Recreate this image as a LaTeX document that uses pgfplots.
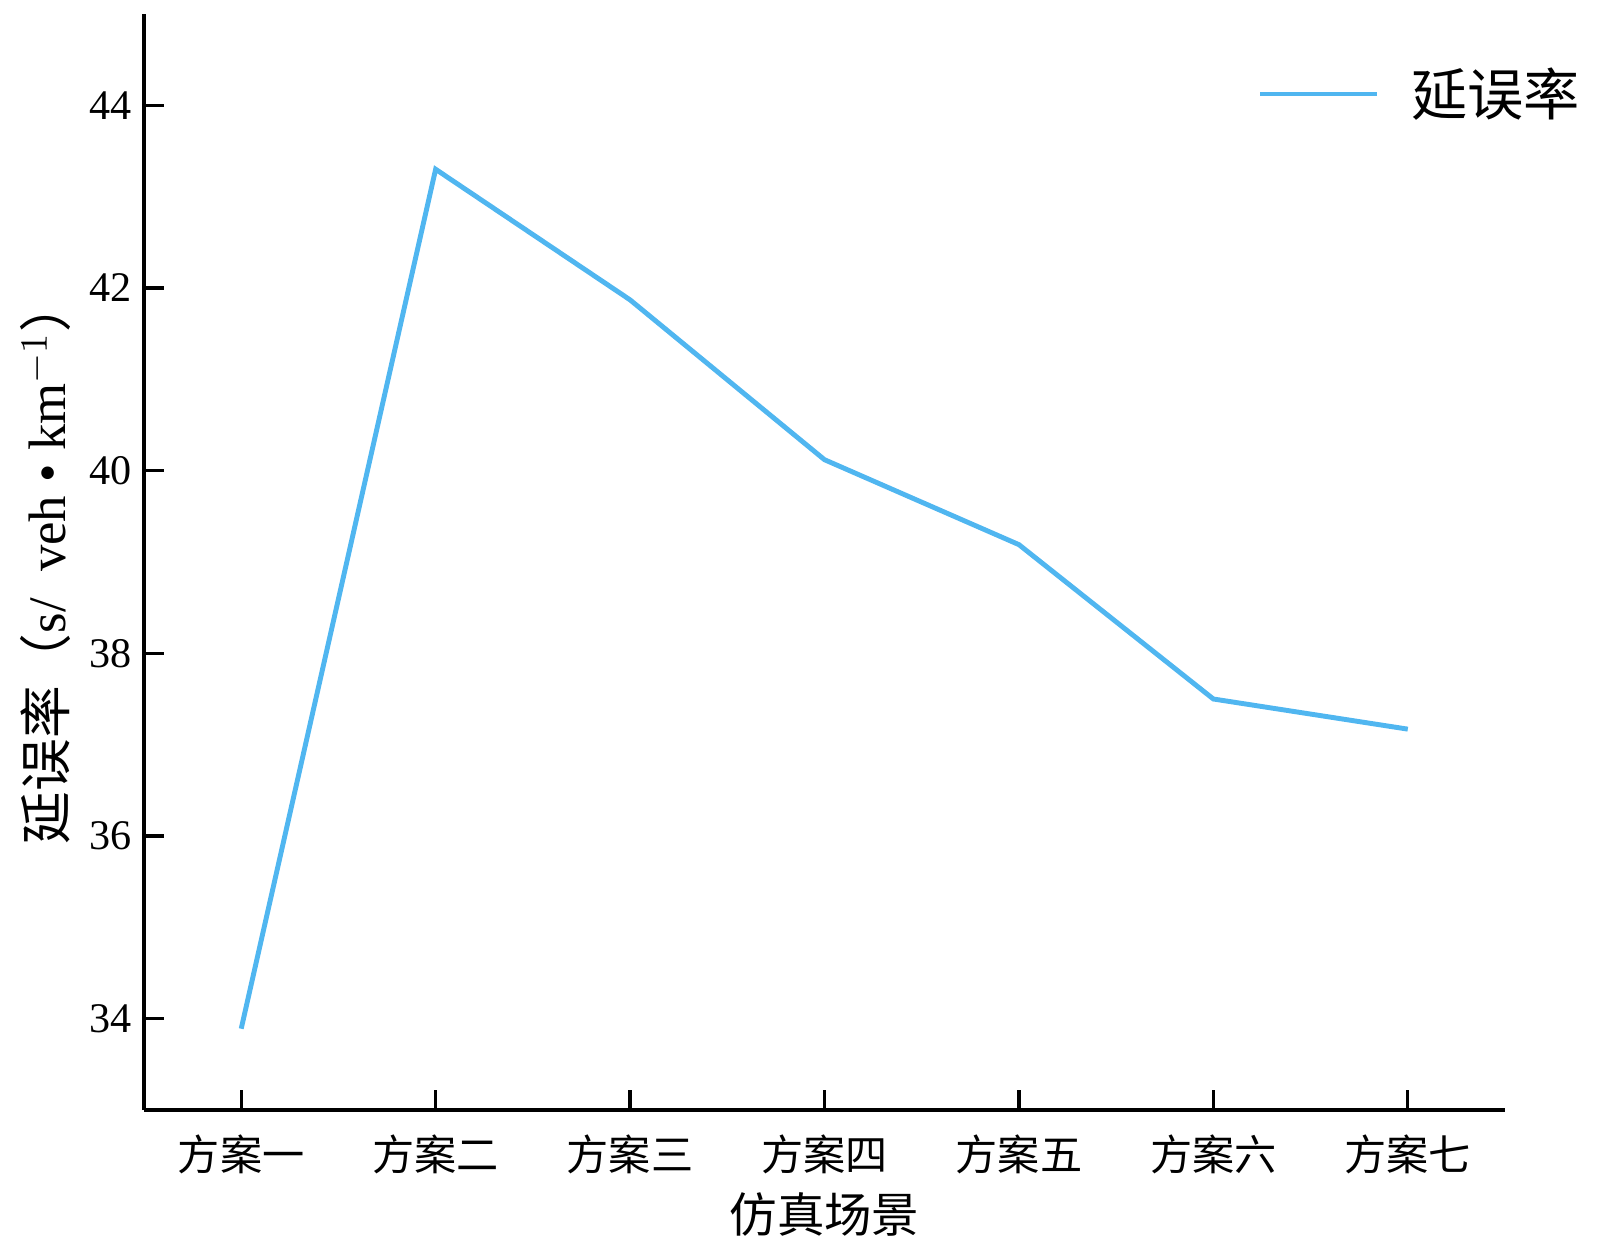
\documentclass[border=0pt]{standalone}
\usepackage{fontspec}
\setmainfont{Liberation Serif}
\newfontfamily\cjk{Noto Sans CJK SC}
\usepackage{pgfplots}
\pgfplotsset{compat=1.18}
\definecolor{lineblue}{RGB}{80,182,240}

\begin{document}
\begin{tikzpicture}
\begin{axis}[
  scale only axis,
  width=13.61cm, height=10.96cm,
  xmin=-0.5, xmax=6.5,
  ymin=33, ymax=45,
  axis x line*=bottom,
  axis y line*=left,
  axis line style={line width=0.9pt},
  xtick={0,...,6},
  xticklabels={方案一,方案二,方案三,方案四,方案五,方案六,方案七},
  ytick={34,36,...,44},
  tick align=inside,
  major tick length=0.2cm,
  tick style={line width=0.9pt, black},
  xticklabel style={font=\cjk\fontsize{12}{14}\selectfont, yshift=-0.12cm},
  yticklabel style={font=\fontsize{12}{14}\selectfont},
  /pgf/number format/assume math mode=true,
  xlabel={\cjk 仿真场景},
  ylabel={{\cjk 延误率（}s/\ \ veh • km$^{-1}${\cjk ）}},
  xlabel style={font=\fontsize{13.5}{15}\selectfont, yshift=0.05cm},
  ylabel style={font=\fontsize{15}{17}\selectfont, yshift=-0.05cm},
  legend style={draw=none, fill=none, inner sep=0pt, at={(1.058,0.927)}, anchor=east,
    font=\cjk\fontsize{16}{18}\selectfont, nodes={inner xsep=1pt}},
  legend cell align=left,
  legend image code/.code={\draw[#1] (0cm,0cm) -- (1.17cm,0cm); \path (1.45cm,0cm);},
  clip=false,
]
\addplot[lineblue, line width=1.4pt] coordinates {
  (0,33.89) (1,43.30) (2,41.87) (3,40.12) (4,39.19) (5,37.50) (6,37.17)
};
\addlegendentry{延误率}
\end{axis}
\path (current axis.south west) ++(-1.44cm,-1.40cm) rectangle ++(16cm,12.5cm);
\end{tikzpicture}
\end{document}
